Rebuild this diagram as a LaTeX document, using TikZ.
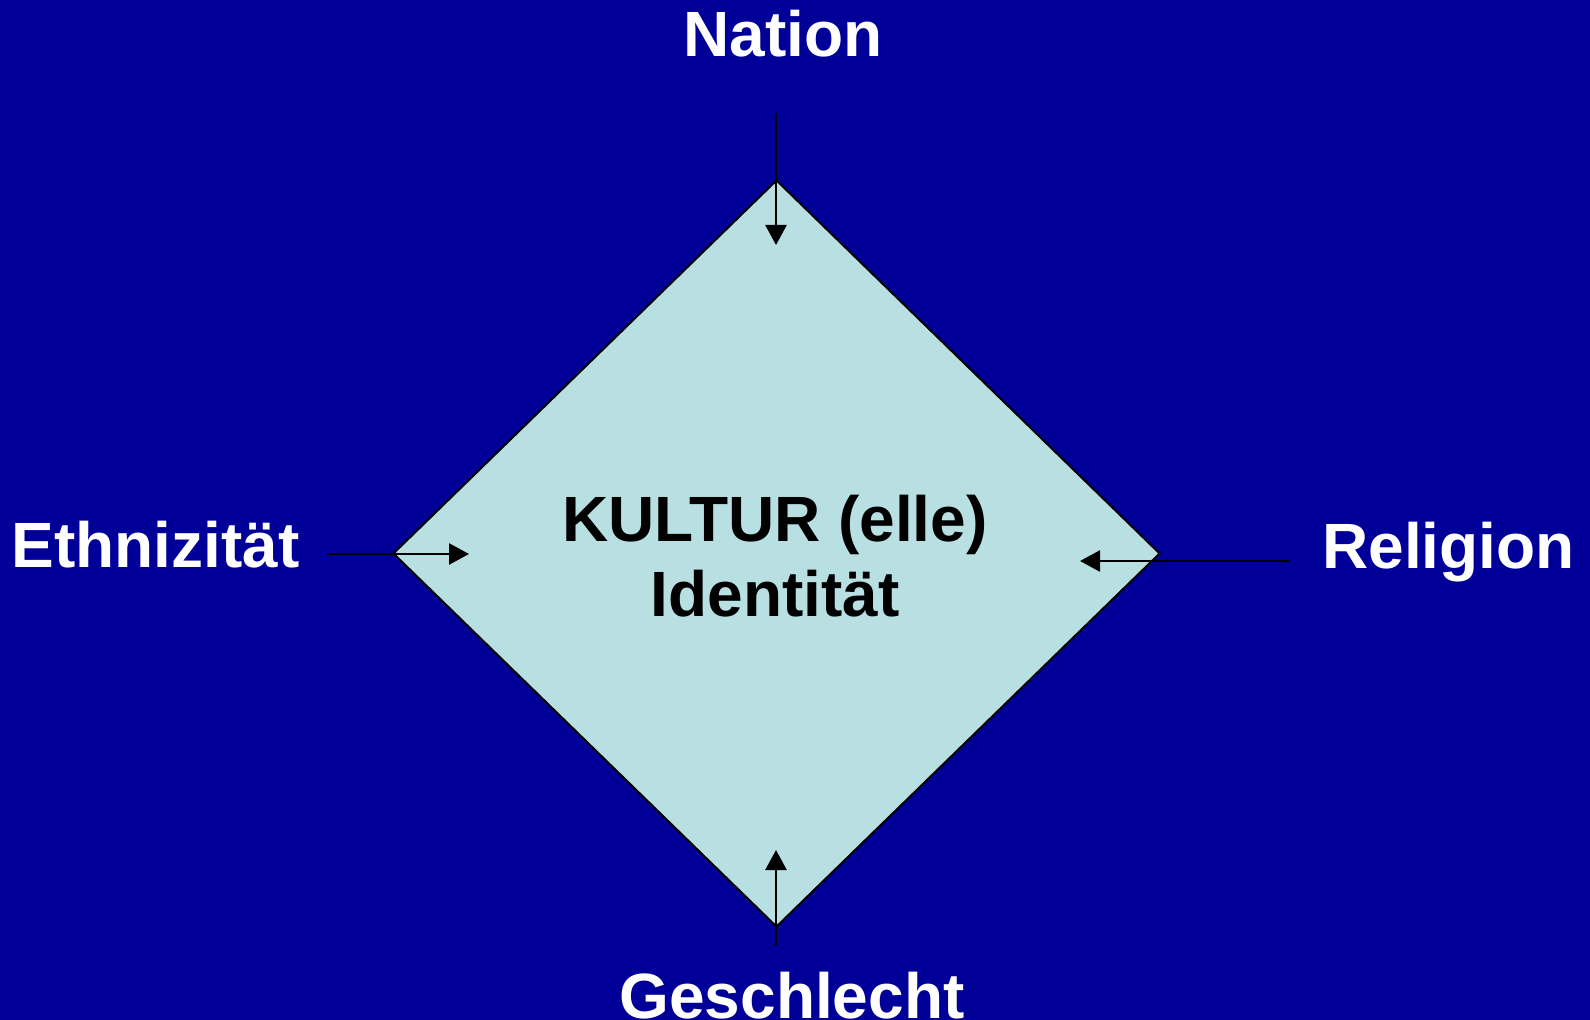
\documentclass[tikz,border=0pt]{standalone}
\usepackage{fontspec}
\setmainfont{Liberation Sans}
\usetikzlibrary{shapes.geometric,arrows.meta}
\definecolor{hintergrund}{RGB}{0,0,153}
\definecolor{rautenfarbe}{RGB}{184,223,226}
\begin{document}
\begin{tikzpicture}
[x=0.5pt,y=-0.5pt,
  rautedecorate/.style={shape=diamond,draw,line width=1pt,fill=rautenfarbe,inner sep=0pt,%
    minimum width=383.5pt,minimum height=373.5pt},%
  labeldecorate/.style={text=white,font=\bfseries\fontsize{32}{38}\selectfont,inner sep=0pt,anchor=base},%
  textdecorate/.style={text=black,font=\bfseries\fontsize{32}{37.5}\selectfont,align=center,inner sep=0pt,anchor=base},%
  linedecorate/.style={-{Triangle[length=10pt,width=10.5pt]},line width=1.3pt}]
\fill[hintergrund] (0,0) rectangle (1590,1020);
\useasboundingbox (0,0) rectangle (1590,1020);
%% diamond and its text
\node (raute) at (776.5,553.5) [rautedecorate] {};
\node (kultur) at (775,616.5) [textdecorate] {KULTUR (elle)\\Identität};
%% labels
\foreach \nodename/\x/\y/\beschriftung in {
  nation/783/57/Nation, ethnie/155.5/568/Ethnizität,
  religion/1448.5/569/Religion, geschlecht/792/1018/Geschlecht} {
  \node (\nodename) at (\x,\y) [labeldecorate] {\beschriftung};
}
%% arrows into the diamond
\foreach \nodename/\xa/\ya/\xb/\yb in {
  nation/776/113/776/245, ethnie/327/554/469/554,
  religion/1289/561/1080/561, geschlecht/776/946/776/850} {
  \coordinate (\nodename-aus) at (\xa,\ya);
  \coordinate (\nodename-ein) at (\xb,\yb);
  \draw[linedecorate] (\nodename-aus) -- (\nodename-ein);
}
\end{tikzpicture}
\end{document}
